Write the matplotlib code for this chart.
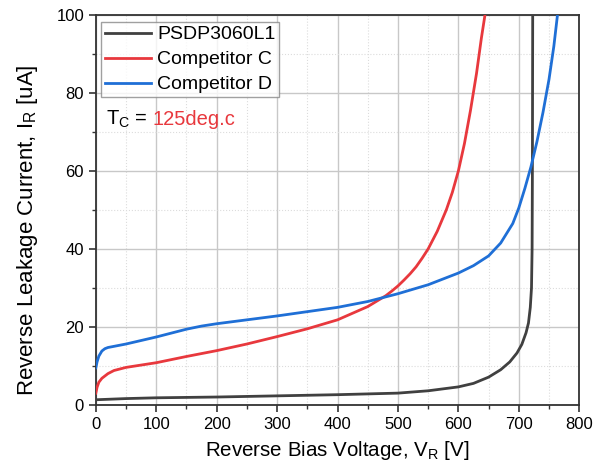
import matplotlib.pyplot as plt
from matplotlib.ticker import MultipleLocator

plt.rcParams['font.family'] = ['Liberation Sans', 'DejaVu Sans']
plt.rcParams['mathtext.default'] = 'regular'

# values
v_psdp = [0, 50, 100, 200, 300, 400, 500, 550, 600, 625, 650, 670, 685, 697, 705, 712, 716, 719, 721, 722, 722.5, 723]
i_psdp = [1.3, 1.6, 1.8, 2.0, 2.3, 2.6, 3.0, 3.6, 4.6, 5.5, 7.1, 9.0, 11.0, 13.3, 15.5, 18.5, 21, 25, 30, 40, 60, 100]

v_comp_c = [0, 2, 5, 10, 20, 30, 50, 100, 150, 200, 250, 300, 350, 400, 450, 480, 490, 500, 510, 520, 530, 540, 550,
            565, 580, 590, 600, 610, 620, 630, 638, 644]
i_comp_c = [3, 4.5, 5.8, 6.8, 8.0, 8.8, 9.6, 10.8, 12.4, 13.9, 15.6, 17.5, 19.5, 21.8, 25.2, 28, 29.2, 30.5, 32, 33.6, 35.4, 37.6, 40,
            44.5, 50, 54.5, 60, 67, 75.5, 85, 94, 100]

v_comp_d = [0, 2, 5, 10, 15, 20, 30, 50, 75, 100, 125, 150, 175, 200, 250, 300, 350, 400, 450, 500, 550, 600, 625, 650,
            670, 690, 700, 710, 720, 730, 740, 750, 758, 764]
i_comp_d = [9.5, 11, 12.5, 13.8, 14.4, 14.7, 15.0, 15.6, 16.5, 17.4, 18.4, 19.4, 20.2, 20.8, 21.8, 22.8, 23.9, 25.0, 26.5, 28.5, 30.8, 33.8, 35.7, 38.2,
            41.5, 46.5, 50.5, 55.5, 61, 67.5, 75, 83.5, 92, 100]

fig = plt.figure(figsize=(5.99, 4.68), dpi=100)
ax = fig.add_axes([0.160, 0.135, 0.807, 0.833])

ax.plot(v_psdp, i_psdp, color='#404040', lw=2, label='PSDP3060L1', zorder=3)
ax.plot(v_comp_c, i_comp_c, color='#e8383d', lw=2, label='Competitor C', zorder=3)
ax.plot(v_comp_d, i_comp_d, color='#1f6fd6', lw=2, label='Competitor D', zorder=3)

ax.set_xlim(0, 800)
ax.set_ylim(0, 100)
ax.xaxis.set_major_locator(MultipleLocator(100))
ax.xaxis.set_minor_locator(MultipleLocator(50))
ax.yaxis.set_major_locator(MultipleLocator(20))
ax.yaxis.set_minor_locator(MultipleLocator(10))
ax.grid(which='major', color='#c8c8c8', lw=1, ls='-')
ax.grid(which='minor', color='#dcdcdc', lw=0.8, ls=':')
ax.set_axisbelow(True)

ax.tick_params(which='both', direction='out', labelsize=12, color='#333333')
ax.tick_params(which='major', length=5, width=1.2)
ax.tick_params(which='minor', length=3, width=1.0)
for s in ax.spines.values():
    s.set_linewidth(1.3)
    s.set_color('#333333')

ax.set_xlabel('Reverse Bias Voltage, V$_R$ [V]', fontsize=14.8, labelpad=5)
ax.set_ylabel('Reverse Leakage Current, I$_R$ [uA]', fontsize=16)
ax.yaxis.set_label_coords(-0.115, 0.447)

leg = ax.legend(loc='upper left', bbox_to_anchor=(0.01, 0.982), fontsize=14, frameon=True, fancybox=False,
                handlelength=2.4, borderpad=0.2, labelspacing=0.38,
                handletextpad=0.3, borderaxespad=0)
leg.get_frame().set_edgecolor('#888888')
leg.get_frame().set_linewidth(1.0)

ax.text(0.021, 0.731, 'T$_C$ = ', transform=ax.transAxes, fontsize=14.5, va='center', ha='left')
ax.text(0.118, 0.731, '125deg.c', transform=ax.transAxes, fontsize=14.5, va='center', ha='left', color='#e8383d')

plt.savefig('out.png', dpi=100)
